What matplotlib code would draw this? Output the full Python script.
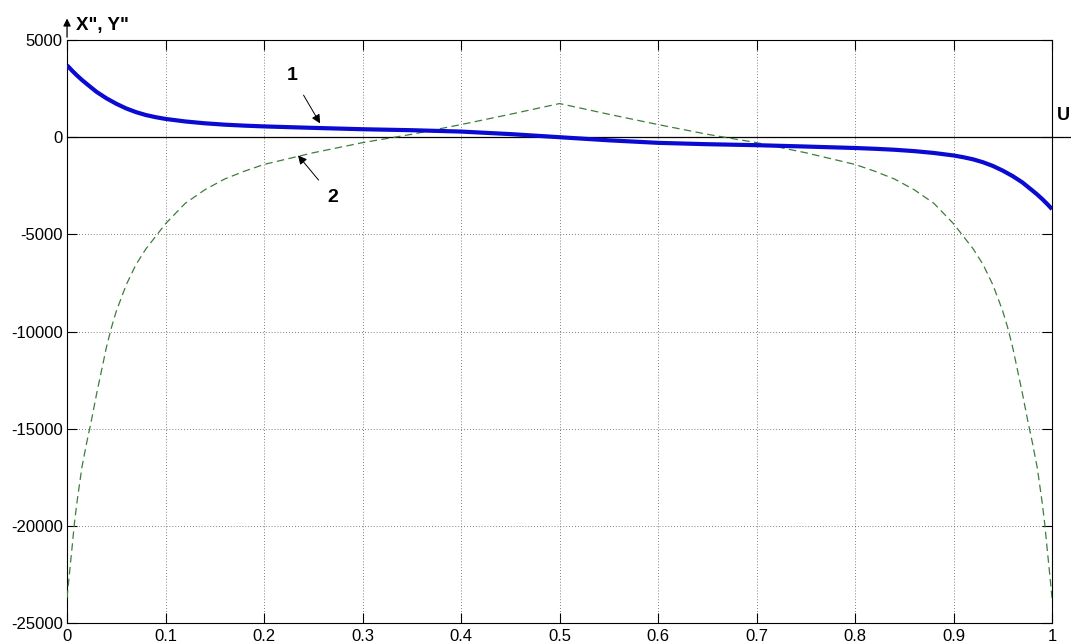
import numpy as np
import matplotlib.pyplot as plt

plt.rcParams['font.family'] = ['Liberation Sans', 'DejaVu Sans']

# curve 1 (thick blue) and curve 2 (dashed green) against U
u1 = [0, 0.005, 0.01, 0.015, 0.02, 0.03, 0.04, 0.05, 0.06, 0.07, 0.08, 0.09,
      0.1, 0.12, 0.14, 0.16, 0.18, 0.2, 0.25, 0.3, 0.35, 0.4, 0.45, 0.5,
      0.55, 0.6, 0.65, 0.7, 0.75, 0.8, 0.82, 0.84, 0.86, 0.88, 0.9,
      0.91, 0.92, 0.93, 0.94, 0.95, 0.96, 0.97, 0.98, 0.985, 0.99, 0.995, 1]
curve1 = [3700, 3430, 3180, 2950, 2740, 2330, 2000, 1720, 1480, 1290, 1140, 1030,
          940, 810, 715, 645, 595, 555, 480, 410, 360, 290, 160, 0,
          -160, -290, -360, -410, -480, -555, -595, -645, -715, -810, -940,
          -1030, -1140, -1290, -1480, -1720, -2000, -2330, -2740, -2950, -3180, -3430, -3700]

u2 = [0, 0.0025, 0.005, 0.0075, 0.01, 0.015, 0.02, 0.025, 0.03, 0.035, 0.04, 0.045,
      0.05, 0.06, 0.07, 0.08, 0.09, 0.1, 0.12, 0.14, 0.16, 0.18, 0.2, 0.25,
      0.3, 0.35, 0.4, 0.45, 0.5, 0.55, 0.6, 0.65, 0.7, 0.75, 0.8, 0.82,
      0.84, 0.86, 0.88, 0.9, 0.91, 0.92, 0.93, 0.94, 0.95, 0.955, 0.96, 0.965,
      0.97, 0.975, 0.98, 0.985, 0.99, 0.9925, 0.995, 0.9975, 1]
curve2 = [-23700, -22400, -21150, -19850, -18800, -17000, -15700, -14500, -13200, -12000, -10800, -9800,
          -8950, -7600, -6550, -5750, -5100, -4450, -3400, -2700, -2150, -1750, -1400, -800,
          -280, 150, 650, 1180, 1730, 1180, 650, 150, -280, -800, -1400, -1750,
          -2150, -2700, -3400, -4450, -5100, -5750, -6550, -7600, -8950, -9800, -10800, -12000,
          -13200, -14500, -15700, -17000, -18800, -19850, -21150, -22400, -23700]

xticks = [0, 0.1, 0.2, 0.3, 0.4, 0.5, 0.6, 0.7, 0.8, 0.9, 1]
xlabels = ['0', '0.1', '0.2', '0.3', '0.4', '0.5', '0.6', '0.7', '0.8', '0.9', '1']
yticks = [-25000, -20000, -15000, -10000, -5000, 0, 5000]

fig = plt.figure(figsize=(10.71, 6.44), dpi=100)
ax = fig.add_axes([0.0626, 0.0322, 0.9197, 0.9057])

ax.plot(u2, curve2, color='#3c7d3c', lw=0.9, linestyle=(0, (6, 3.5)), zorder=3)
ax.plot(u1, curve1, color='#0a0ad2', lw=3, zorder=4, solid_capstyle='butt')

# U axis line running out past the frame
ax.plot([0, 1.03], [0, 0], color='k', lw=0.9, clip_on=False, zorder=2)

ax.set_xlim(0, 1)
ax.set_ylim(-25000, 5000)
ax.set_xticks(xticks)
ax.set_xticklabels(xlabels)
ax.set_yticks(yticks)
ax.set_yticklabels([str(v) for v in yticks])
ax.tick_params(direction='in', length=7, width=0.8, top=True, right=True, labelsize=12)
ax.tick_params(axis='x', pad=4)
ax.tick_params(axis='y', pad=3)
ax.grid(True, color='#555555', linestyle=(0, (1, 2.5)), lw=0.6)
ax.set_axisbelow(True)
for s in ax.spines.values():
    s.set_linewidth(0.8)

# vertical axis arrow and its name
ax.annotate('', xy=(0, 6250), xytext=(0, 5000), annotation_clip=False,
            arrowprops=dict(arrowstyle='-|>', color='k', lw=0.9, mutation_scale=11))
ax.text(0.009, 5750, 'X", Y"', fontsize=13.5, fontweight='bold', ha='left', va='center',
        clip_on=False)
fig.text(1070 / 1071, 1 - 115 / 644, 'U', fontsize=13, fontweight='bold', ha='right', va='center')

# curve labels with leader arrows
ax.annotate('1', xy=(0.2569, 709), xytext=(0.2284, 3176), fontsize=14, fontweight='bold',
            ha='center', va='center',
            arrowprops=dict(arrowstyle='-|>', color='k', lw=0.7, mutation_scale=13,
                            shrinkA=7, shrinkB=0))
ax.annotate('2', xy=(0.2345, -935), xytext=(0.270, -3094), fontsize=14, fontweight='bold',
            ha='center', va='center',
            arrowprops=dict(arrowstyle='-|>', color='k', lw=0.7, mutation_scale=13,
                            shrinkA=7, shrinkB=0))

fig.savefig('out.png', dpi=100)
